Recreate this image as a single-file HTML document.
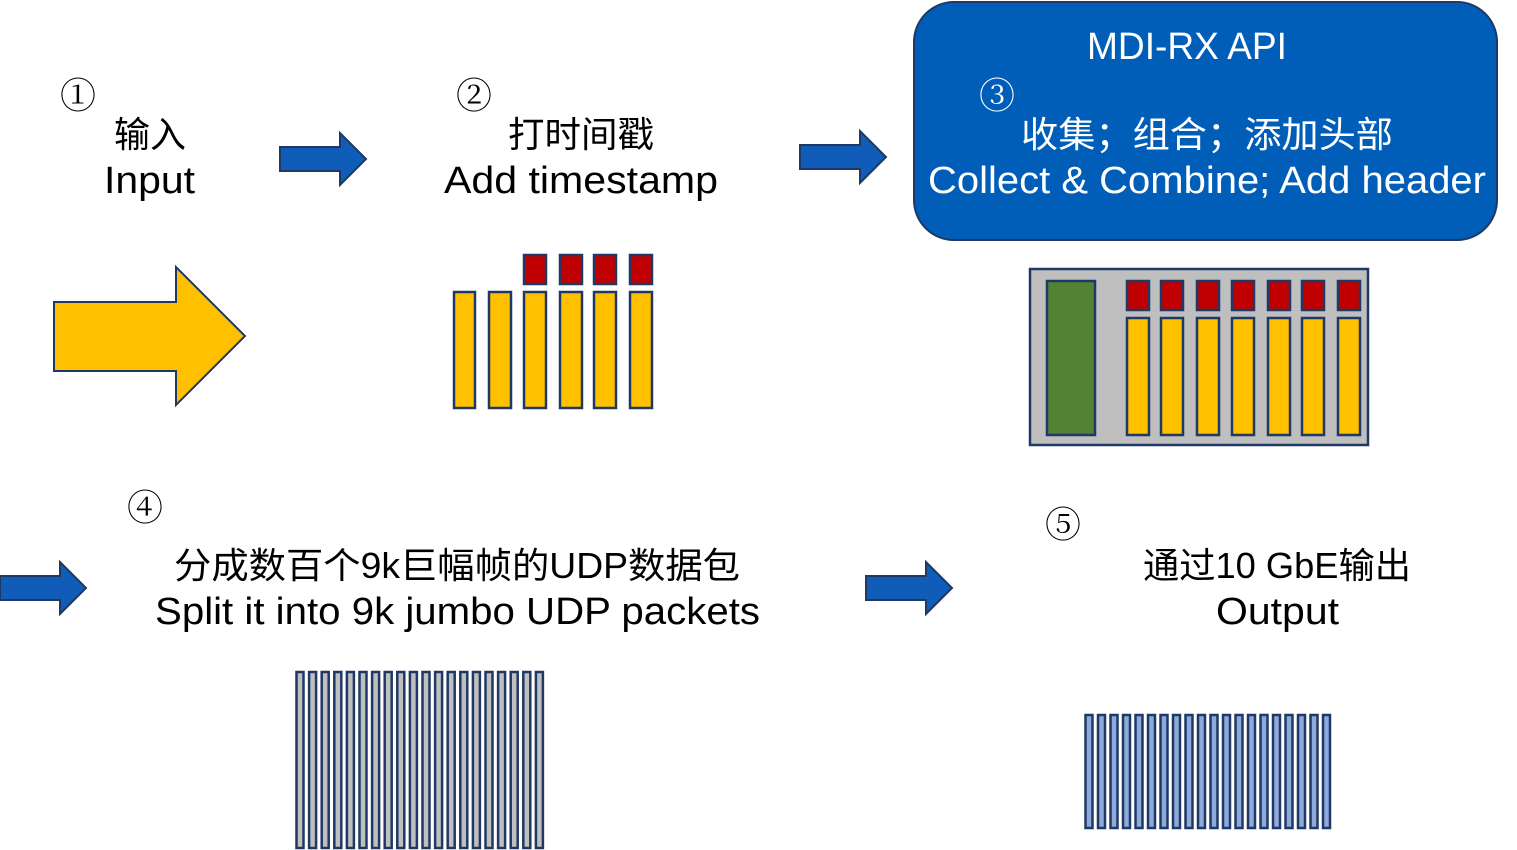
<!DOCTYPE html>
<html><head><meta charset="utf-8"><style>
html,body{margin:0;padding:0;background:#fff;}
svg{display:block;}
text{font-family:"Liberation Sans","Noto Sans CJK SC",sans-serif;fill:#000;}
.c{font-family:"Liberation Serif","Noto Serif CJK SC",serif;}
</style></head><body>
<svg width="1517" height="850" viewBox="0 0 1517 850" xmlns="http://www.w3.org/2000/svg">
<defs>
<g id="ba"><polygon points="0,-12 60,-12 60,-26 86,0 60,26 60,12 0,12" fill="#0F5DB8" stroke="#1F3864" stroke-width="2"/></g>
</defs>
<use href="#ba" x="280" y="159"/>
<use href="#ba" x="800" y="157"/>
<use href="#ba" x="0" y="588"/>
<use href="#ba" x="866" y="588"/>
<polygon points="54,302 176,302 176,267 245,336 176,405 176,371 54,371" fill="#FFC000" stroke="#1F3864" stroke-width="2"/>
<text class="c" x="78" y="108" font-size="36" text-anchor="middle">①</text>
<text x="150" y="147" font-size="36" text-anchor="middle" textLength="72">输入</text>
<text x="104" y="193" font-size="38" textLength="91" lengthAdjust="spacingAndGlyphs">Input</text>
<text class="c" x="474" y="108" font-size="36" text-anchor="middle">②</text>
<text x="508" y="147" font-size="36" textLength="146" lengthAdjust="spacingAndGlyphs">打时间戳</text>
<text x="444" y="193" font-size="38" textLength="274" lengthAdjust="spacingAndGlyphs">Add timestamp</text>
<rect x="914" y="2" width="583" height="238" rx="40" fill="#005EB8" stroke="#1F3864" stroke-width="2"/>
<text x="1087" y="59" font-size="38" style="fill:#fff" textLength="200" lengthAdjust="spacingAndGlyphs">MDI-RX API</text>
<text class="c" x="997" y="108" font-size="36" text-anchor="middle" style="fill:#fff">③</text>
<text x="1021" y="147" font-size="36" style="fill:#fff" textLength="372" lengthAdjust="spacingAndGlyphs">收集；组合；添加头部</text>
<text x="928" y="193" font-size="38" style="fill:#fff" textLength="558" lengthAdjust="spacingAndGlyphs">Collect &amp; Combine; Add header</text>
<g stroke="#1F3864" stroke-width="2.5">
<rect x="454" y="292" width="21" height="116" fill="#FFC000"/>
<rect x="489" y="292" width="22" height="116" fill="#FFC000"/>
<rect x="524" y="292" width="22" height="116" fill="#FFC000"/>
<rect x="560" y="292" width="22" height="116" fill="#FFC000"/>
<rect x="594" y="292" width="22" height="116" fill="#FFC000"/>
<rect x="630" y="292" width="22" height="116" fill="#FFC000"/>
<rect x="524" y="255" width="22" height="29" fill="#C00000"/>
<rect x="560" y="255" width="22" height="29" fill="#C00000"/>
<rect x="594" y="255" width="22" height="29" fill="#C00000"/>
<rect x="630" y="255" width="22" height="29" fill="#C00000"/>
<rect x="1030" y="269" width="338" height="176" fill="#BFBFBF"/>
<rect x="1047" y="281" width="48" height="154" fill="#548235"/>
</g>
<g stroke="#1F3864" stroke-width="2.5">
<rect x="1127" y="281" width="22" height="29" fill="#C00000"/><rect x="1127" y="318" width="22" height="117" fill="#FFC000"/>
<rect x="1161" y="281" width="22" height="29" fill="#C00000"/><rect x="1161" y="318" width="22" height="117" fill="#FFC000"/>
<rect x="1197" y="281" width="22" height="29" fill="#C00000"/><rect x="1197" y="318" width="22" height="117" fill="#FFC000"/>
<rect x="1232" y="281" width="22" height="29" fill="#C00000"/><rect x="1232" y="318" width="22" height="117" fill="#FFC000"/>
<rect x="1268" y="281" width="22" height="29" fill="#C00000"/><rect x="1268" y="318" width="22" height="117" fill="#FFC000"/>
<rect x="1302" y="281" width="22" height="29" fill="#C00000"/><rect x="1302" y="318" width="22" height="117" fill="#FFC000"/>
<rect x="1338" y="281" width="22" height="29" fill="#C00000"/><rect x="1338" y="318" width="22" height="117" fill="#FFC000"/>
</g>
<text class="c" x="145" y="520" font-size="36" text-anchor="middle">④</text>
<text x="174" y="578" font-size="36" textLength="566" lengthAdjust="spacingAndGlyphs">分成数百个9k巨幅帧的UDP数据包</text>
<text x="155" y="624" font-size="38" textLength="605" lengthAdjust="spacingAndGlyphs">Split it into 9k jumbo UDP packets</text>
<text class="c" x="1063" y="537" font-size="36" text-anchor="middle">⑤</text>
<text x="1143" y="578" font-size="36" textLength="268" lengthAdjust="spacingAndGlyphs">通过10 GbE输出</text>
<text x="1216" y="624" font-size="38" textLength="123" lengthAdjust="spacingAndGlyphs">Output</text>
<g stroke="#1F3864" stroke-width="2.5" fill="#BFBFBF">
<rect x="296.5" y="672" width="7" height="176"/><rect x="309.1" y="672" width="7" height="176"/><rect x="321.7" y="672" width="7" height="176"/><rect x="334.3" y="672" width="7" height="176"/><rect x="346.9" y="672" width="7" height="176"/><rect x="359.5" y="672" width="7" height="176"/><rect x="372.1" y="672" width="7" height="176"/><rect x="384.7" y="672" width="7" height="176"/><rect x="397.3" y="672" width="7" height="176"/><rect x="409.9" y="672" width="7" height="176"/><rect x="422.5" y="672" width="7" height="176"/><rect x="435.1" y="672" width="7" height="176"/><rect x="447.7" y="672" width="7" height="176"/><rect x="460.3" y="672" width="7" height="176"/><rect x="472.9" y="672" width="7" height="176"/><rect x="485.5" y="672" width="7" height="176"/><rect x="498.1" y="672" width="7" height="176"/><rect x="510.7" y="672" width="7" height="176"/><rect x="523.3" y="672" width="7" height="176"/><rect x="535.9" y="672" width="7" height="176"/>
</g>
<g stroke="#1F3864" stroke-width="2.5" fill="#8EA9DB">
<rect x="1085.5" y="715" width="7" height="113"/><rect x="1098" y="715" width="7" height="113"/><rect x="1110.5" y="715" width="7" height="113"/><rect x="1123" y="715" width="7" height="113"/><rect x="1135.5" y="715" width="7" height="113"/><rect x="1148" y="715" width="7" height="113"/><rect x="1160.5" y="715" width="7" height="113"/><rect x="1173" y="715" width="7" height="113"/><rect x="1185.5" y="715" width="7" height="113"/><rect x="1198" y="715" width="7" height="113"/><rect x="1210.5" y="715" width="7" height="113"/><rect x="1223" y="715" width="7" height="113"/><rect x="1235.5" y="715" width="7" height="113"/><rect x="1248" y="715" width="7" height="113"/><rect x="1260.5" y="715" width="7" height="113"/><rect x="1273" y="715" width="7" height="113"/><rect x="1285.5" y="715" width="7" height="113"/><rect x="1298" y="715" width="7" height="113"/><rect x="1310.5" y="715" width="7" height="113"/><rect x="1323" y="715" width="7" height="113"/>
</g>
</svg>
</body></html>
